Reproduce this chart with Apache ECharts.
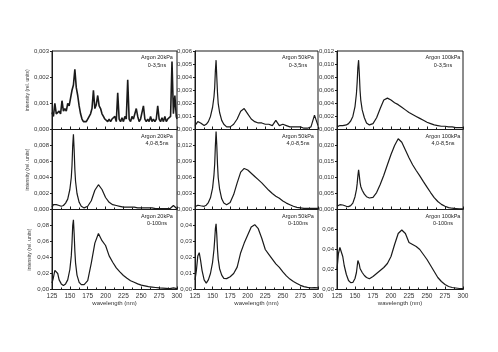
<!DOCTYPE html>
<html>
<head>
<meta charset="utf-8">
<script src="https://cdn.jsdelivr.net/npm/echarts@6/dist/echarts.min.js"></script>
<style>
  html, body { margin: 0; padding: 0; background: #fff; }
  #chart { width: 498px; height: 352px; }
</style>
</head>
<body>
<div id="chart"></div>
<script>
// wavelength grid (nm), finer around the 155 nm line
const wl = [125, 127, 129, 131, 133, 135, 138, 141, 144, 147, 150, 152, 153, 154, 155, 156, 157, 158,
  160, 163, 166, 170, 175, 180, 185, 190, 195, 200, 205, 210, 215, 220, 225, 230, 235, 240, 245,
  250, 255, 260, 265, 270, 275, 280, 285, 290, 295, 300];

// noisy early spectrum at 20 kPa has its own grid
const wlNoisy = [125, 127, 129, 131, 133, 135, 137, 139, 141, 143, 145, 147, 149, 151, 153, 155, 157, 159,
  161, 163, 165, 167, 169, 171, 173, 175, 177, 179, 181, 183, 185, 187, 189, 191, 193, 195, 197, 199,
  201, 203, 205, 207, 209, 211, 213, 215, 217, 219, 221, 223, 225, 227, 229, 231, 233, 235, 237, 239,
  241, 243, 245, 247, 249, 251, 253, 255, 257, 259, 261, 263, 265, 267, 269, 271, 273, 275, 277, 279,
  281, 283, 285, 287, 289, 291, 293, 295, 297, 299, 300];

const ar20Early = [0.00065, 0.0005, 0.0010, 0.0006, 0.00055, 0.0007, 0.0006, 0.0011, 0.0007, 0.0008, 0.0007, 0.0010,
  0.0009, 0.0012, 0.0015, 0.0017, 0.0023, 0.0016, 0.0013, 0.0009, 0.0006, 0.0004, 0.0003, 0.00035, 0.0003, 0.0004,
  0.00045, 0.0006, 0.0008, 0.0015, 0.0008, 0.00095, 0.0013, 0.0009, 0.0008, 0.0006, 0.0005, 0.0004, 0.00035, 0.0003,
  0.0004, 0.0003, 0.0004, 0.00035, 0.0005, 0.0003, 0.0014, 0.0004, 0.0003, 0.00045, 0.0003, 0.0005, 0.0004, 0.0019,
  0.0004, 0.0003, 0.0005, 0.0004, 0.0006, 0.0008, 0.0005, 0.0003, 0.0004, 0.00035, 0.0009, 0.0004, 0.0003, 0.0004,
  0.0003, 0.0005, 0.0003, 0.0004, 0.0003, 0.0004, 0.0009, 0.0004, 0.0003, 0.00045, 0.0003, 0.0005, 0.0003, 0.0004,
  0.00035, 0.0005, 0.0026, 0.0006, 0.0013, 0.0005, 0.0004];

const ar50Early = [0.0003, 0.0004, 0.0006, 0.0006, 0.0005, 0.0004, 0.0003, 0.0004, 0.0006, 0.0010, 0.0017, 0.0025,
  0.0032, 0.0045, 0.0053, 0.0040, 0.0028, 0.0020, 0.0013, 0.0007, 0.0004, 0.0002, 0.0002, 0.0004, 0.0008, 0.0014,
  0.0016, 0.0012, 0.0008, 0.0006, 0.0005, 0.0005, 0.0004, 0.0004, 0.0003, 0.0007, 0.0003, 0.0004, 0.0003, 0.0002,
  0.0002, 0.0002, 0.0002, 0.0001, 0.0001, 0.0002, 0.0011, 0.0003];

const ar100Early = [0.0004, 0.0005, 0.0006, 0.0006, 0.0006, 0.0006, 0.0007, 0.0009, 0.0013, 0.0020, 0.0035, 0.0055,
  0.0072, 0.0095, 0.0106, 0.0085, 0.0060, 0.0045, 0.0030, 0.0018, 0.0010, 0.0007, 0.0009, 0.0018, 0.0032, 0.0045,
  0.0048, 0.0045, 0.0041, 0.0038, 0.0034, 0.0030, 0.0026, 0.0023, 0.0020, 0.0017, 0.0014, 0.0011, 0.0009, 0.0007,
  0.0006, 0.0005, 0.0005, 0.0004, 0.0004, 0.0003, 0.0003, 0.0003];

const ar20Mid = [0.0003, 0.0006, 0.0007, 0.0006, 0.0005, 0.0005, 0.0004, 0.0005, 0.0008, 0.0013, 0.0025, 0.0040,
  0.0055, 0.0080, 0.0094, 0.0075, 0.0050, 0.0035, 0.0020, 0.0009, 0.0004, 0.0002, 0.0004, 0.0011, 0.0024, 0.0031,
  0.0025, 0.0015, 0.0009, 0.0006, 0.0005, 0.0004, 0.0003, 0.0003, 0.0003, 0.0003, 0.0002, 0.0002, 0.0002, 0.0002,
  0.0002, 0.0001, 0.0001, 0.0001, 0.0001, 0.0001, 0.0005, 0.0001];

const ar50Mid = [0.0005, 0.0007, 0.0008, 0.0008, 0.0007, 0.0006, 0.0006, 0.0008, 0.0013, 0.0022, 0.0040, 0.0065,
  0.0085, 0.0120, 0.0146, 0.0120, 0.0085, 0.0060, 0.0038, 0.0020, 0.0012, 0.0009, 0.0013, 0.0028, 0.0050, 0.0070,
  0.0077, 0.0074, 0.0068, 0.0062, 0.0056, 0.0050, 0.0043, 0.0036, 0.0030, 0.0025, 0.0021, 0.0016, 0.0012, 0.0009,
  0.0006, 0.0004, 0.0003, 0.0002, 0.0002, 0.0002, 0.0002, 0.0002];

const ar100Mid = [0.0010, 0.0013, 0.0015, 0.0015, 0.0014, 0.0012, 0.0010, 0.0009, 0.0012, 0.0020, 0.0040, 0.0062,
  0.0080, 0.0105, 0.0124, 0.0105, 0.0085, 0.0072, 0.0060, 0.0048, 0.0040, 0.0036, 0.0038, 0.0053, 0.0078, 0.0107,
  0.0140, 0.0172, 0.0200, 0.0221, 0.0210, 0.0186, 0.0162, 0.0140, 0.0122, 0.0105, 0.0087, 0.0070, 0.0053, 0.0037,
  0.0025, 0.0016, 0.0010, 0.0006, 0.0004, 0.0003, 0.0002, 0.0002];

const ar20All = [0.008, 0.015, 0.024, 0.026, 0.020, 0.012, 0.007, 0.005, 0.007, 0.012, 0.025, 0.042, 0.058, 0.080,
  0.087, 0.070, 0.048, 0.033, 0.018, 0.009, 0.006, 0.006, 0.011, 0.033, 0.058, 0.070, 0.061, 0.055, 0.042, 0.034,
  0.027, 0.022, 0.0175, 0.014, 0.011, 0.009, 0.007, 0.0055, 0.0045, 0.0035, 0.003, 0.0025, 0.002, 0.0018, 0.0015,
  0.0012, 0.002, 0.001];

const ar50All = [0.006, 0.012, 0.021, 0.023, 0.018, 0.012, 0.006, 0.004, 0.006, 0.010, 0.017, 0.025, 0.031, 0.038,
  0.041, 0.034, 0.025, 0.019, 0.013, 0.009, 0.007, 0.0068, 0.008, 0.010, 0.014, 0.023, 0.029, 0.034, 0.039, 0.0405,
  0.038, 0.032, 0.025, 0.022, 0.019, 0.016, 0.0138, 0.011, 0.0085, 0.0065, 0.005, 0.0038, 0.0026, 0.0018, 0.0013,
  0.001, 0.0012, 0.001];

const ar100All = [0.020, 0.036, 0.042, 0.040, 0.033, 0.024, 0.015, 0.009, 0.0068, 0.007, 0.011, 0.017, 0.023, 0.029,
  0.031, 0.025, 0.021, 0.019, 0.017, 0.014, 0.012, 0.0107, 0.013, 0.016, 0.019, 0.022, 0.026, 0.033, 0.045, 0.056,
  0.0595, 0.056, 0.047, 0.045, 0.043, 0.040, 0.035, 0.030, 0.024, 0.018, 0.012, 0.008, 0.005, 0.003, 0.002, 0.0015,
  0.001, 0.001];

const xTicks = [125, 150, 175, 200, 225, 250, 275, 300];
const pressures = ["20kPa", "50kPa", "100kPa"];
const windows = ["0-3,5ns", "4,0-8,5ns", "0-100ns"];

// y tick values per panel (row by row)
const yTicks20Early = [0, 0.001, 0.002, 0.003];
const yTicks50Early = [0, 0.001, 0.002, 0.003, 0.004, 0.005, 0.006];
const yTicks100Early = [0, 0.002, 0.004, 0.006, 0.008, 0.010, 0.012];
const yTicks20Mid = [0, 0.002, 0.004, 0.006, 0.008];
const yTicks50Mid = [0, 0.003, 0.006, 0.009, 0.012];
const yTicks100Mid = [0, 0.005, 0.010, 0.015, 0.020];
const yTicks20All = [0, 0.02, 0.04, 0.06, 0.08];
const yTicks50All = [0, 0.01, 0.02, 0.03, 0.04];
const yTicks100All = [0, 0.02, 0.04, 0.06];

// per row, per column: axis max; decimals per row
const yMax = [[0.003, 0.006, 0.012], [0.010, 0.015, 0.025], [0.10, 0.05, 0.08]];
const yDecimals = [3, 3, 2];

const yTicks = [
  [yTicks20Early, yTicks50Early, yTicks100Early],
  [yTicks20Mid, yTicks50Mid, yTicks100Mid],
  [yTicks20All, yTicks50All, yTicks100All]
];

const panels = [
  [[wlNoisy, ar20Early], [wl, ar50Early], [wl, ar100Early]],
  [[wl, ar20Mid], [wl, ar50Mid], [wl, ar100Mid]],
  [[wl, ar20All], [wl, ar50All], [wl, ar100All]]
];

const colLeft = [52, 195, 337];
const colWidth = [125, 123, 126];
const rowTop = [51, 129.5, 209.5];
const rowHeight = [78.5, 80, 80];

const font = "Liberation Sans";
const ink = "#1a1a1a";

const grids = [], xAxes = [], yAxes = [], series = [], graphics = [];

for (let r = 0; r < 3; r++) {
  for (let c = 0; c < 3; c++) {
    const i = r * 3 + c;
    const dec = yDecimals[r];
    grids.push({
      left: colLeft[c], top: rowTop[r], width: colWidth[c], height: rowHeight[r],
      show: true, borderColor: ink, borderWidth: 1, backgroundColor: "transparent"
    });
    xAxes.push({
      type: "value", gridIndex: i, min: 125, max: 300, interval: 25,
      axisLine: { lineStyle: { color: ink, width: 1 } },
      axisTick: { inside: true, length: 3, lineStyle: { color: ink } },
      minorTick: { show: true, splitNumber: 2, length: 2, lineStyle: { color: ink } },
      splitLine: { show: false },
      axisLabel: {
        show: r === 2, fontSize: 6.5, fontFamily: font, color: "#333", margin: 3,
        customValues: xTicks
      },
      name: r === 2 ? "wavelength (nm)" : "",
      nameLocation: "middle", nameGap: 11,
      nameTextStyle: { fontSize: 6, fontFamily: font, color: "#333" }
    });
    yAxes.push({
      type: "value", gridIndex: i, min: 0, max: yMax[r][c],
      axisLine: { lineStyle: { color: ink, width: 1 } },
      axisTick: { length: 2, lineStyle: { color: ink }, customValues: yTicks[r][c] },
      splitLine: { show: false },
      axisLabel: {
        fontSize: 6, fontFamily: font, color: "#333", margin: 3,
        customValues: yTicks[r][c],
        formatter: (v) => v.toFixed(dec).replace(".", ",")
      },
      name: c === 0 ? "intensity (rel. units)" : "",
      nameLocation: "middle", nameGap: 20,
      nameTextStyle: { fontSize: 5, fontFamily: font, color: "#444" }
    });
    const [xs, ys] = panels[r][c];
    series.push({
      type: "line", xAxisIndex: i, yAxisIndex: i,
      data: xs.map((w, k) => [w, ys[k]]),
      showSymbol: false, silent: true, animation: false,
      lineStyle: { color: ink, width: i === 0 ? 1.6 : 1.2 }
    });
    graphics.push({
      type: "text",
      x: colLeft[c] + colWidth[c] - 20, y: rowTop[r] + 3,
      style: {
        text: "Argon " + pressures[c] + "\n" + windows[r],
        align: "center", verticalAlign: "top", lineHeight: 7.5,
        fontSize: 5.5, fontFamily: font, fill: "#222"
      }
    });
  }
}

const chart = echarts.init(document.getElementById("chart"), null, { renderer: "canvas" });
chart.setOption({
  backgroundColor: "#fff",
  animation: false,
  grid: grids,
  xAxis: xAxes,
  yAxis: yAxes,
  series: series,
  graphic: graphics
});
</script>
</body>
</html>
